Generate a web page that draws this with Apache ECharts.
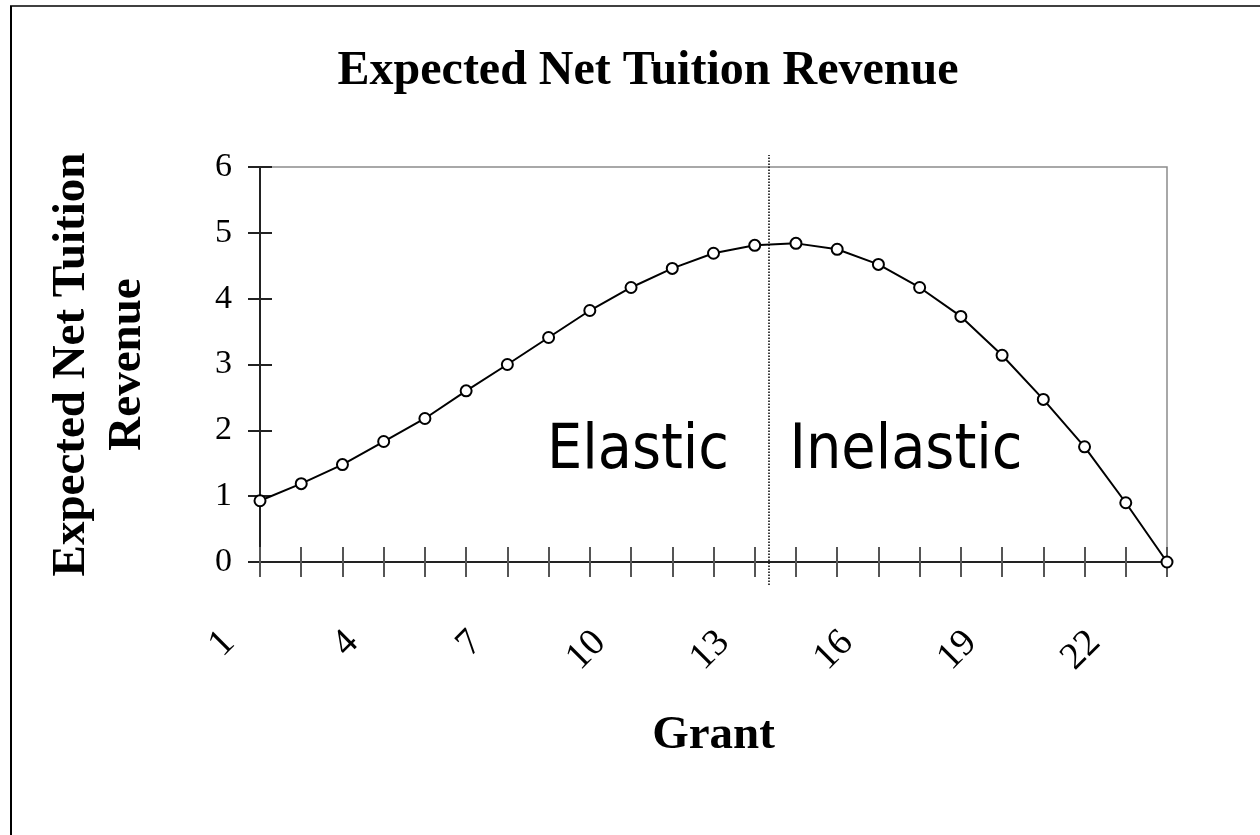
<!DOCTYPE html>
<html>
<head>
<meta charset="utf-8">
<title>Expected Net Tuition Revenue</title>
<script src="https://cdn.jsdelivr.net/npm/echarts@6/dist/echarts.min.js"></script>
<style>
  html, body { margin: 0; padding: 0; background: #fff; }
  #chart { width: 1260px; height: 835px; }
</style>
</head>
<body>
<div id="chart"></div>
<script>
// grant levels 1..23
var grants = ['1','2','3','4','5','6','7','8','9','10','11','12','13','14','15','16','17','18','19','20','21','22','23'];
// expected net tuition revenue
var revenue = [0.93, 1.19, 1.48, 1.83, 2.18, 2.60, 3.00, 3.41, 3.82, 4.17, 4.46, 4.69, 4.81,
               4.84, 4.75, 4.52, 4.17, 3.73, 3.14, 2.47, 1.75, 0.90, 0.0];
// where the dotted divider sits on the grant scale
var splitGrant = 13.35;
var regionLabels = ['Elastic', 'Inelastic'];

var serif = '"Liberation Serif", "Times New Roman", serif';
var sans = '"DejaVu Sans Condensed", "DejaVu Sans", sans-serif';

var myChart = echarts.init(document.getElementById('chart'));

var option = {
  animation: false,
  backgroundColor: '#fff',
  title: {
    text: 'Expected Net Tuition Revenue',
    left: 643,
    textAlign: 'center',
    top: 43,
    textStyle: { fontFamily: serif, fontWeight: 'bold', fontSize: 48, color: '#000' }
  },
  grid: [
    { left: 260, right: 93, top: 167, bottom: 273, show: true, borderColor: '#8c8c8c', borderWidth: 1.5 },
    // taller copy of the plot, only used for the divider line
    { left: 260, right: 93, top: 155, bottom: 250 }
  ],
  xAxis: [
    {
      type: 'category',
      gridIndex: 0,
      data: grants,
      boundaryGap: false,
      name: 'Grant',
      nameLocation: 'middle',
      nameGap: 150,
      nameTextStyle: { fontFamily: serif, fontWeight: 'bold', fontSize: 47, color: '#000' },
      axisLine: { lineStyle: { color: '#222', width: 2 } },
      axisTick: { show: true, interval: 0, length: 15, lineStyle: { color: '#555', width: 2 } },
      axisLabel: {
        interval: 2, rotate: 45, margin: 44, padding: [0, 44, 0, 0],
        fontFamily: serif, fontSize: 38, color: '#000'
      },
      splitLine: { show: false }
    },
    {
      // inner half of the crossing ticks
      type: 'category',
      gridIndex: 0,
      data: grants,
      boundaryGap: false,
      position: 'bottom',
      axisLine: { show: false },
      axisTick: { show: true, inside: true, interval: 0, length: 15, lineStyle: { color: '#555', width: 2 } },
      axisLabel: { show: false },
      splitLine: { show: false }
    },
    {
      type: 'value',
      gridIndex: 1,
      min: 1,
      max: 23,
      show: false
    }
  ],
  yAxis: [
    {
      type: 'value',
      gridIndex: 0,
      min: 0,
      max: 6,
      interval: 1,
      name: 'Expected Net Tuition\nRevenue',
      nameLocation: 'middle',
      nameRotate: 90,
      nameGap: 104,
      nameTextStyle: { fontFamily: serif, fontWeight: 'bold', fontSize: 47, color: '#000', lineHeight: 56 },
      axisLine: { show: true, lineStyle: { color: '#222', width: 2 } },
      axisTick: { show: true, length: 12, lineStyle: { color: '#222', width: 2 } },
      axisLabel: { margin: 28, fontFamily: serif, fontSize: 34, color: '#000' },
      splitLine: { show: false }
    },
    {
      type: 'value',
      gridIndex: 0,
      min: 0,
      max: 6,
      interval: 1,
      position: 'left',
      axisLine: { show: false },
      axisTick: { show: true, inside: true, length: 12, lineStyle: { color: '#222', width: 2 } },
      axisLabel: { show: false },
      splitLine: { show: false }
    },
    {
      type: 'value',
      gridIndex: 1,
      min: 0,
      max: 1,
      show: false
    }
  ],
  series: [
    {
      name: 'Revenue',
      type: 'line',
      xAxisIndex: 0,
      yAxisIndex: 0,
      data: revenue,
      symbol: 'circle',
      symbolSize: 11,
      itemStyle: { color: '#fff', borderColor: '#000', borderWidth: 2 },
      lineStyle: { color: '#000', width: 2 },
      z: 5
    },
    {
      name: 'divider',
      type: 'line',
      xAxisIndex: 2,
      yAxisIndex: 2,
      data: [],
      markLine: {
        silent: true,
        symbol: ['none', 'none'],
        label: { show: false },
        lineStyle: { color: '#000', type: 'dotted', width: 1.5 },
        data: [{ xAxis: splitGrant }]
      }
    }
  ],
  graphic: [
    { type: 'line', shape: { x1: 10, y1: 6, x2: 1260, y2: 6 }, style: { stroke: '#404040', lineWidth: 2 } },
    { type: 'line', shape: { x1: 11, y1: 6, x2: 11, y2: 835 }, style: { stroke: '#000', lineWidth: 2 } },
    {
      type: 'text', x: 638, y: 452,
      style: { text: regionLabels[0], font: '62px ' + sans, fill: '#000', textAlign: 'center', textVerticalAlign: 'middle' }
    },
    {
      type: 'text', x: 906, y: 452,
      style: { text: regionLabels[1], font: '62px ' + sans, fill: '#000', textAlign: 'center', textVerticalAlign: 'middle' }
    }
  ]
};

myChart.setOption(option);
</script>
</body>
</html>
